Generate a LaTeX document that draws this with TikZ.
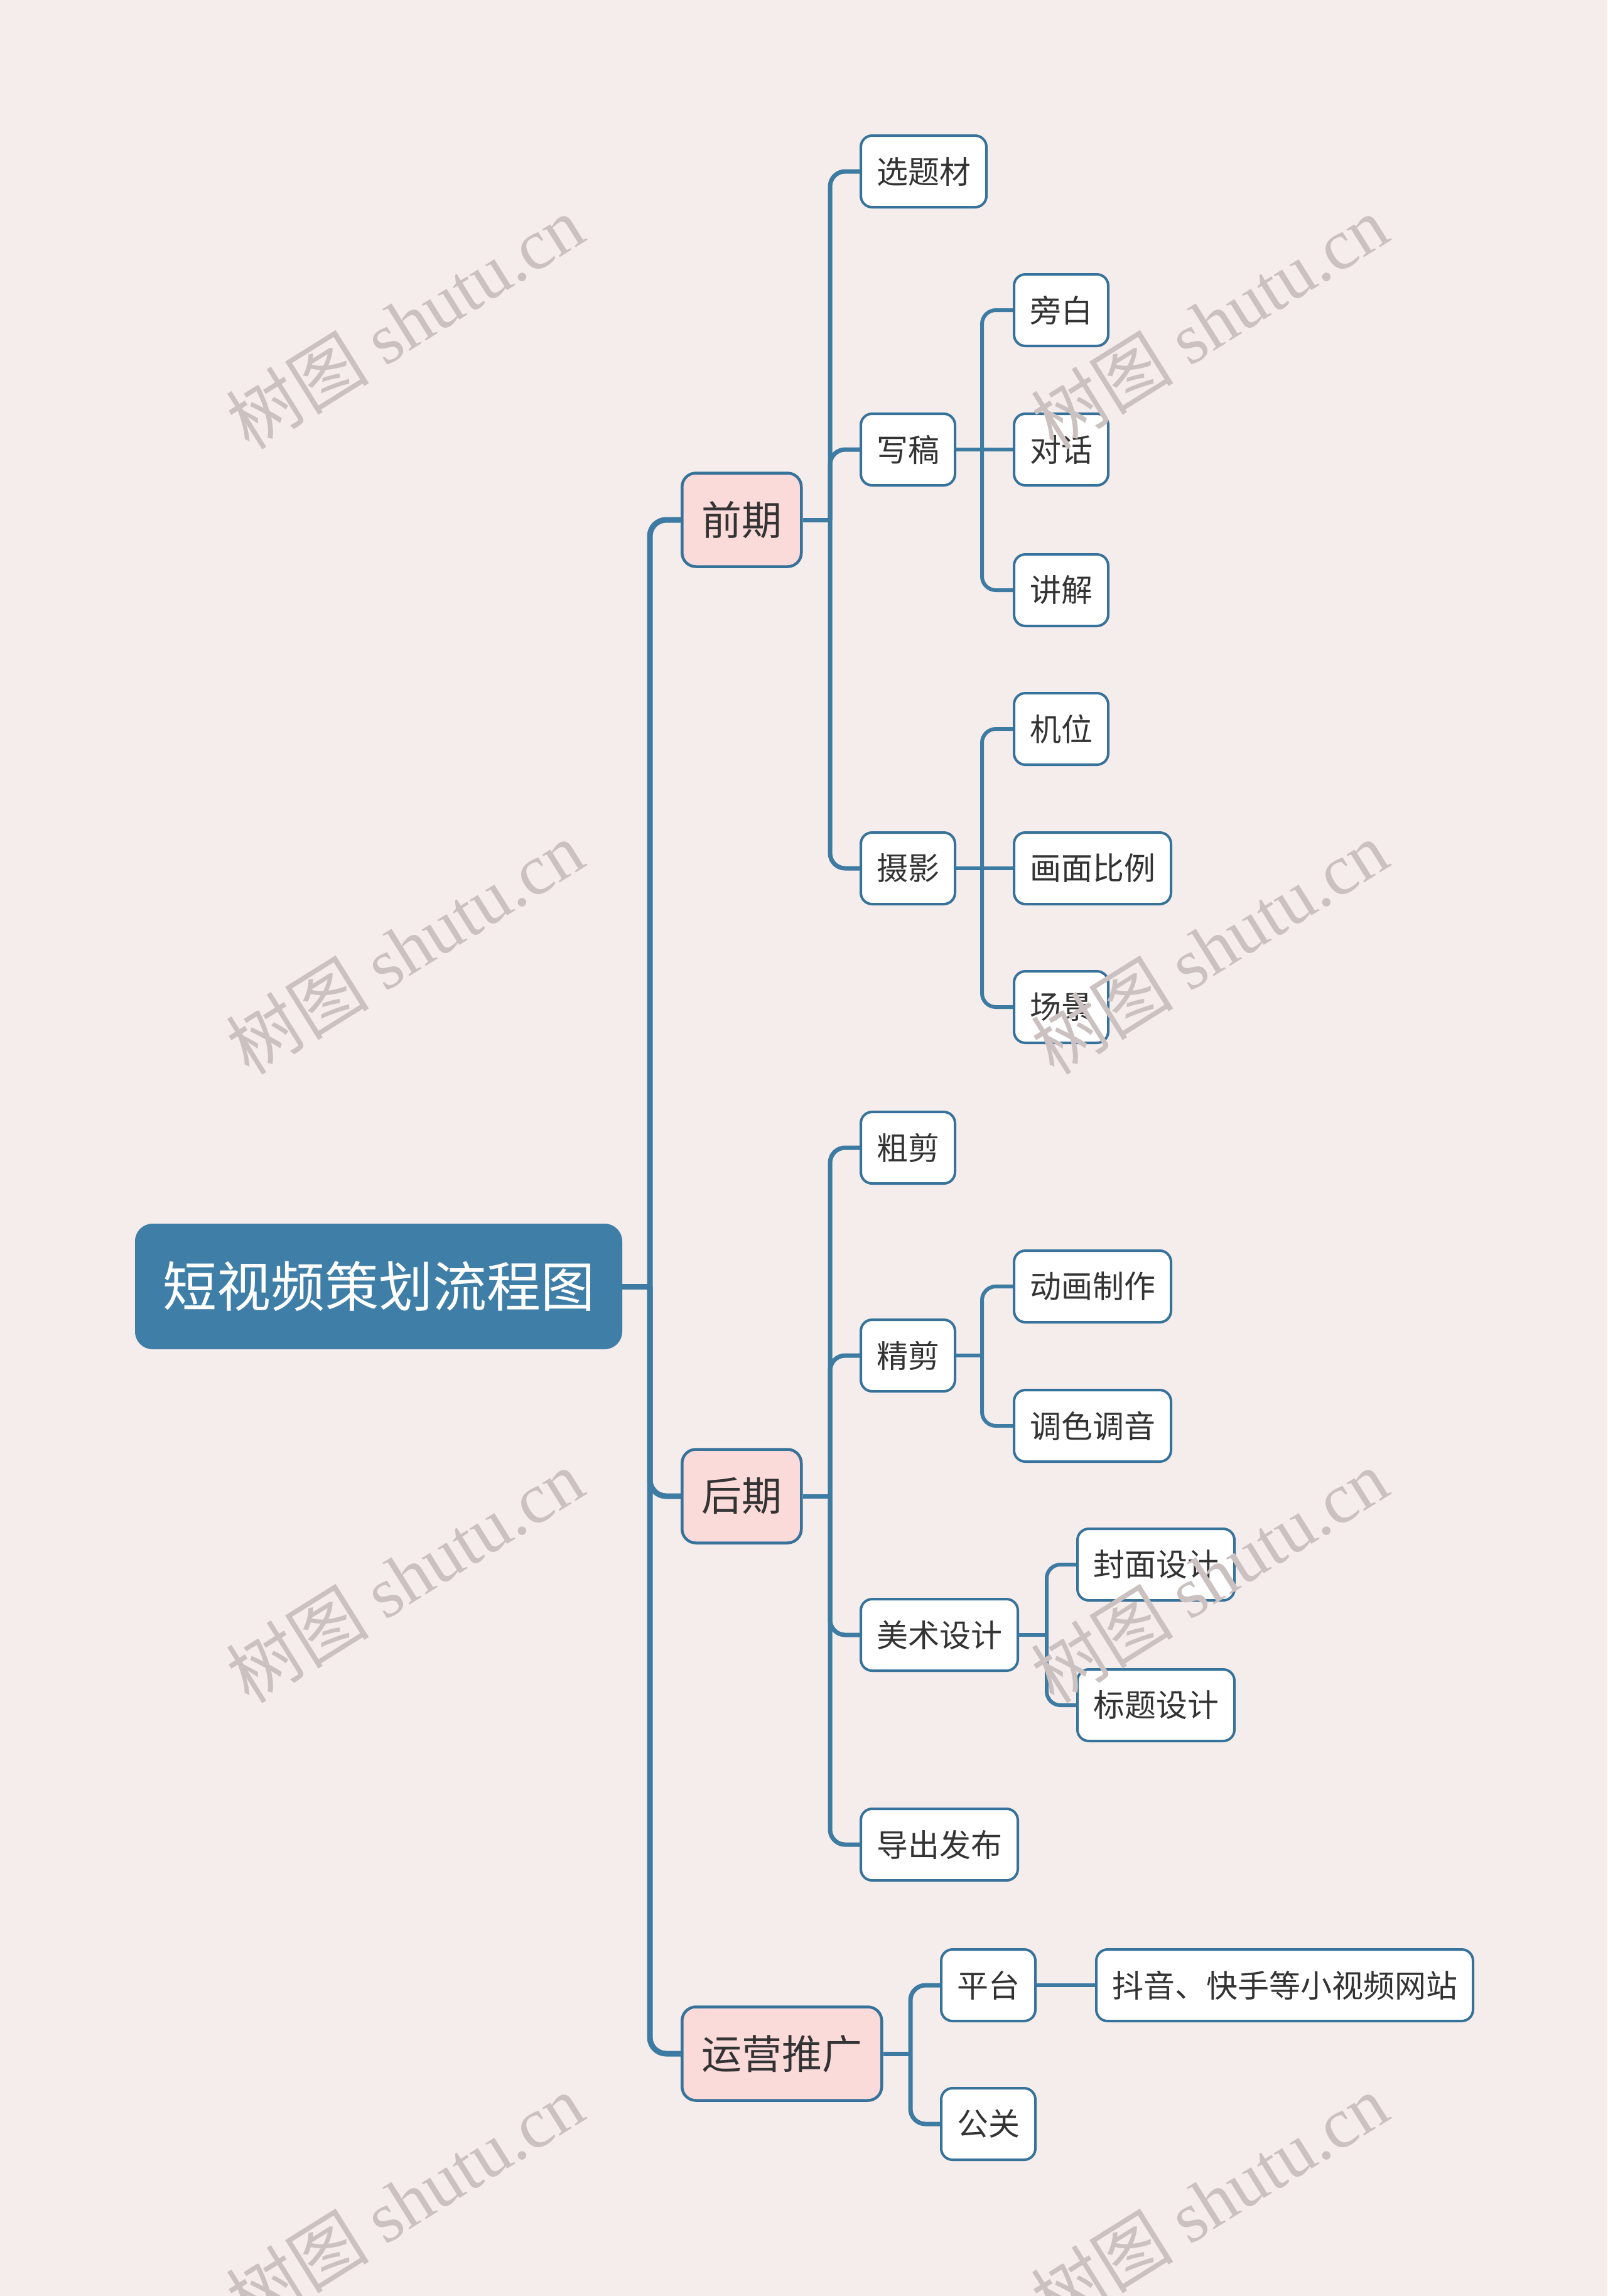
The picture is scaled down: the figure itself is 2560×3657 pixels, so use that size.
\documentclass[tikz,border=0pt]{standalone}
\usepackage{fontspec}
\setmainfont{Noto Sans CJK SC}
\newfontfamily\wmlatin{Liberation Serif}
\usetikzlibrary{calc}
\definecolor{bg}{HTML}{F5EDEC}
\definecolor{rootblue}{HTML}{3F7EA6}
\definecolor{linecol}{HTML}{3D7BA2}
\definecolor{bordercol}{HTML}{37729A}
\definecolor{pinkfill}{HTML}{FBDADA}
\definecolor{txt}{HTML}{333333}
\definecolor{wmcol}{HTML}{CBC1C1}
\begin{document}
\begin{tikzpicture}[x=1pt,y=-1pt,
  rootnode/.style={fill=rootblue, draw=none, rounded corners=28pt, minimum width=776pt, minimum height=200pt, inner sep=0pt, text=white, font=\fontsize{86}{100}\selectfont},
  lvlone/.style={fill=pinkfill, draw=bordercol, line width=4.5pt, rounded corners=22pt, minimum height=149pt, inner xsep=31pt, inner ysep=0pt, text=txt, font=\fontsize{64}{76}\selectfont, anchor=west},
  leaf/.style={fill=white, draw=bordercol, line width=4pt, rounded corners=18pt, minimum height=114pt, inner xsep=25pt, inner ysep=0pt, text=txt, font=\fontsize{50}{60}\selectfont, anchor=west},
  trunkline/.style={draw=linecol, line width=9pt, rounded corners=26pt},
  branchline/.style={draw=linecol, line width=7pt, rounded corners=24pt},
  twigline/.style={draw=linecol, line width=6pt, rounded corners=22pt},
  wm/.style={text=wmcol, font=\fontsize{114}{120}\selectfont, rotate=32, inner sep=0pt}
]
\useasboundingbox[fill=bg] (0,0) rectangle (2560,3657);

% nodes
\node[rootnode] (root) at (603,2049) {短视频策划流程图};
\node[lvlone] (qianqi) at (1084,828) {前期};
\node[lvlone] (houqi) at (1084,2383) {后期};
\node[lvlone] (yunying) at (1084,3271) {运营推广};

\node[leaf] (xuanti) at (1369,273) {选题材};
\node[leaf] (xiegao) at (1369,716) {写稿};
\node[leaf] (sheying) at (1369,1383) {摄影};
\node[leaf] (pangbai) at (1613,494) {旁白};
\node[leaf] (duihua) at (1613,716) {对话};
\node[leaf] (jiangjie) at (1613,940) {讲解};
\node[leaf] (jiwei) at (1613,1161) {机位};
\node[leaf] (huamian) at (1613,1383) {画面比例};
\node[leaf] (changjing) at (1613,1604) {场景};

\node[leaf] (cujian) at (1369,1828) {粗剪};
\node[leaf] (jingjian) at (1369,2159) {精剪};
\node[leaf] (meishu) at (1369,2604) {美术设计};
\node[leaf] (daochu) at (1369,2938) {导出发布};
\node[leaf] (donghua) at (1613,2049) {动画制作};
\node[leaf] (tiaose) at (1613,2271) {调色调音};
\node[leaf] (fengmian) at (1714,2492) {封面设计};
\node[leaf] (biaoti) at (1714,2716) {标题设计};

\node[leaf] (pingtai) at (1497,3162) {平台};
\node[leaf] (gongguan) at (1497,3383) {公关};
\node[leaf] (douyin) at (1744,3162) {抖音、快手等小视频网站};

% junctions
\coordinate (jr) at (1035,2049);
\coordinate (jq) at (1322,828);
\coordinate (jh) at (1322,2383);
\coordinate (jy) at (1450,3271);
\coordinate (jx) at (1564,716);
\coordinate (js) at (1564,1383);
\coordinate (jj) at (1564,2159);
\coordinate (jm) at (1667,2604);

% connectors
\draw[trunkline] (root.east) -- (jr);
\draw[trunkline] (jr) |- (qianqi.west);
\draw[trunkline] (jr) |- (houqi.west);
\draw[trunkline] (jr) |- (yunying.west);

\draw[branchline] (qianqi.east) -- (jq);
\draw[branchline] (jq) |- (xuanti.west);
\draw[branchline] (jq) |- (xiegao.west);
\draw[branchline] (jq) |- (sheying.west);

\draw[twigline] (xiegao.east) -- (jx);
\draw[twigline] (jx) |- (pangbai.west);
\draw[twigline] (jx) -- (duihua.west);
\draw[twigline] (jx) |- (jiangjie.west);

\draw[twigline] (sheying.east) -- (js);
\draw[twigline] (js) |- (jiwei.west);
\draw[twigline] (js) -- (huamian.west);
\draw[twigline] (js) |- (changjing.west);

\draw[branchline] (houqi.east) -- (jh);
\draw[branchline] (jh) |- (cujian.west);
\draw[branchline] (jh) |- (jingjian.west);
\draw[branchline] (jh) |- (meishu.west);
\draw[branchline] (jh) |- (daochu.west);

\draw[twigline] (jingjian.east) -- (jj);
\draw[twigline] (jj) |- (donghua.west);
\draw[twigline] (jj) |- (tiaose.west);

\draw[twigline] (meishu.east) -- (jm);
\draw[twigline] (jm) |- (fengmian.west);
\draw[twigline] (jm) |- (biaoti.west);

\draw[branchline] (yunying.east) -- (jy);
\draw[branchline] (jy) |- (pingtai.west);
\draw[branchline] (jy) |- (gongguan.west);
\draw[twigline] (pingtai.east) -- (douyin.west);

% watermarks
\foreach \wx in {645,1926}{
  \foreach \wy in {513,1509,2510,3505}{
    \node[wm] at (\wx,\wy) {树图 {\wmlatin shutu.cn}};
  }
}
\end{tikzpicture}
\end{document}
